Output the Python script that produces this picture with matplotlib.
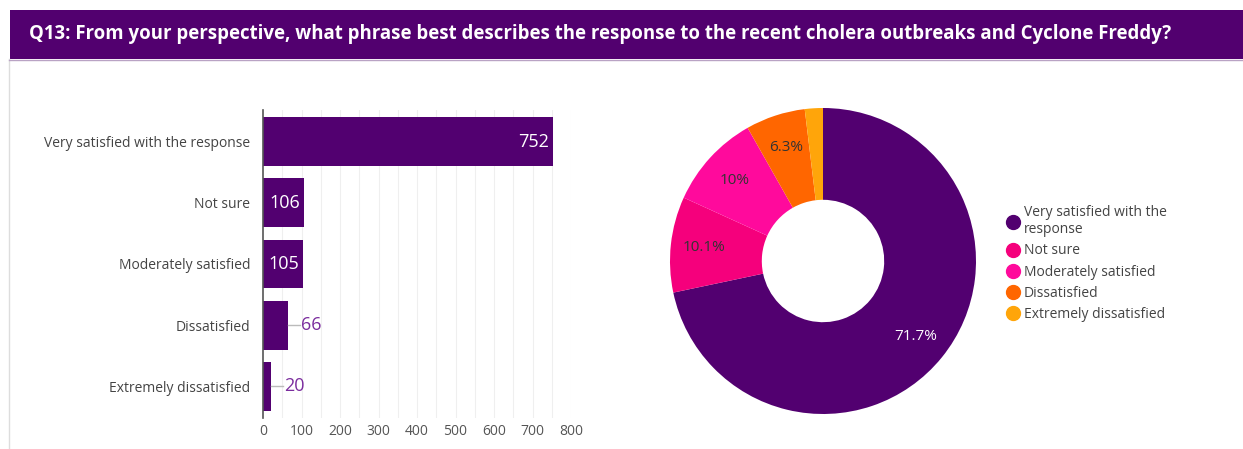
import matplotlib
matplotlib.use("Agg")
import matplotlib.pyplot as plt
from matplotlib.patches import Rectangle
from matplotlib.lines import Line2D
import numpy as np

title = "Q13: From your perspective, what phrase best describes the response to the recent cholera outbreaks and Cyclone Freddy?"
categories = ["Very satisfied with the response", "Not sure", "Moderately satisfied",
              "Dissatisfied", "Extremely dissatisfied"]
legend_labels = ["Very satisfied with the\nresponse", "Not sure", "Moderately satisfied",
                 "Dissatisfied", "Extremely dissatisfied"]
counts = [752, 106, 105, 66, 20]
colors = ["#520070", "#f5007c", "#ff0a9c", "#ff6600", "#ffa50a"]
pie_label_colors = ["white", "#333333", "#333333", "#333333", "#333333"]
xticks = [0, 100, 200, 300, 400, 500, 600, 700, 800]

plt.rcParams['font.family'] = ['Open Sans', 'DejaVu Sans']

W, H = 1243, 449
fig = plt.figure(figsize=(W / 100, H / 100), dpi=100)

def fx(px):
    return px / W

def fy(py):
    return 1 - py / H

# Header bar
fig.patches.append(Rectangle((fx(10), fy(59)), fx(1243) - fx(10), fy(10) - fy(59),
                             transform=fig.transFigure, facecolor="#52006f", edgecolor="none"))
fig.text(fx(29), fy(34), title, color="white", fontsize=13.4, fontweight="bold",
         va="center", ha="left")
# panel border
fig.lines.append(Line2D([fx(9), fx(9)], [fy(59), 0], transform=fig.transFigure,
                        color="#dddddd", lw=1))
fig.lines.append(Line2D([fx(9), 1], [fy(59.5), fy(59.5)], transform=fig.transFigure,
                        color="#b9a3c4", lw=1))

# Bar chart
ax = fig.add_axes([fx(263), fy(418), fx(571) - fx(263), fy(110) - fy(418)])
y = np.arange(len(categories))
ax.barh(y, counts, height=0.8, color=colors[0], zorder=3)
ax.set_ylim(4.52, -0.52)
ax.set_xlim(0, 800)
ax.set_yticks(y)
ax.set_yticklabels(categories, fontsize=10, color="#444444")
ax.set_xticks(xticks)
ax.set_xticklabels([str(t) for t in xticks], fontsize=10, color="#555555")
ax.tick_params(axis="both", length=0)
ax.tick_params(axis="y", pad=9)
ax.tick_params(axis="x", pad=4)
for g in np.arange(50, 801, 50):
    ax.axvline(g, color="#efefef", lw=0.8, zorder=0)
for s in ["top", "right", "bottom"]:
    ax.spines[s].set_visible(False)
ax.spines["left"].set_color("#555555")
ax.spines["left"].set_linewidth(1.2)
ax.spines["left"].set_zorder(4)

px_per_unit = (571 - 263) / 800
for yi, v in zip(y, counts):
    if v >= 100:
        ax.text(v - 4 / px_per_unit, yi, str(v), color="white", fontsize=13,
                ha="right", va="center", zorder=5)
    else:
        ax.plot([v, v + 12 / px_per_unit], [yi, yi], color="#bbbbbb", lw=1, zorder=4)
        ax.text(v + 13 / px_per_unit, yi, str(v), color="#7b2d9e", fontsize=13,
                ha="left", va="center", zorder=5)

# Donut chart
pax = fig.add_axes([fx(670), fy(414), fx(976) - fx(670), fy(108) - fy(414)])
wedges, texts, autotexts = pax.pie(counts, colors=colors, startangle=90, counterclock=False,
                                    radius=1, wedgeprops=dict(width=0.6, edgecolor="none"),
                                    autopct=lambda p: "" if p < 3 else ("%.1f%%" % p).replace(".0%", "%"),
                                    pctdistance=0.78, textprops=dict(fontsize=11))
for t, c in zip(autotexts, pie_label_colors):
    t.set_color(c)
pax.set_xlim(-1, 1)
pax.set_ylim(-1, 1)
pax.set_aspect("equal")

handles = [Line2D([0], [0], marker="o", color="none", markerfacecolor=c, markeredgecolor=c,
                  markersize=10) for c in colors]
fig.legend(handles, legend_labels, loc="upper left", bbox_to_anchor=(fx(1006), fy(205)),
           frameon=False, fontsize=10, labelcolor="#444444", handletextpad=0.3,
           labelspacing=0.45, handlelength=1.0, borderaxespad=0, borderpad=0)

fig.savefig("out.png", dpi=100, facecolor="white")
